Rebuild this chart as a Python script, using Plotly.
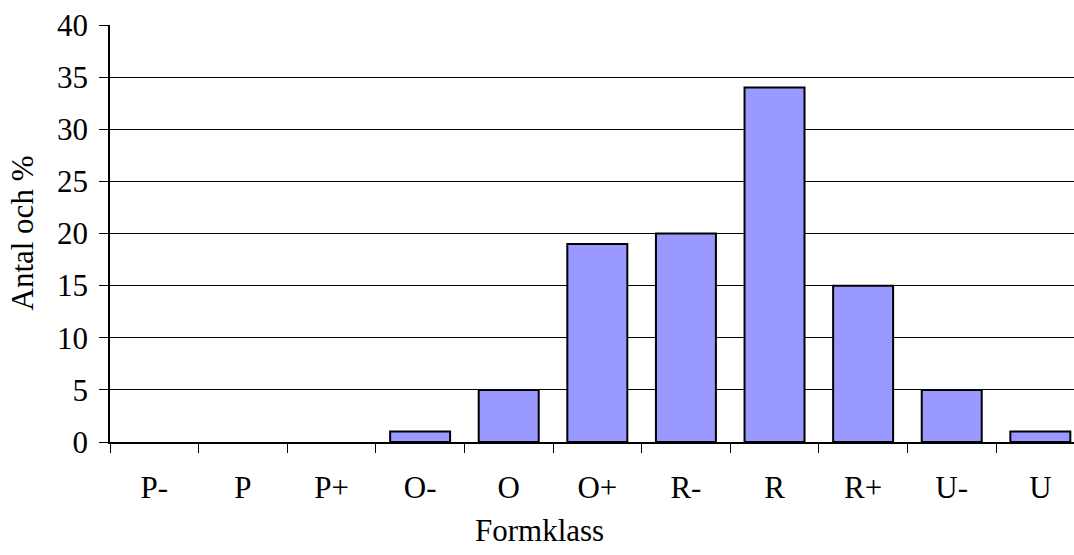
import plotly.graph_objects as go

categories = ["P-", "P", "P+", "O-", "O", "O+", "R-", "R", "R+", "U-", "U"]
values = [0, 0, 0, 1, 5, 19, 20, 34, 15, 5, 1]
y_ticks = [0, 5, 10, 15, 20, 25, 30, 35, 40]

FONT = "Liberation Serif, Times New Roman, serif"
FS = 31

fig = go.Figure()
fig.add_trace(go.Bar(
    x=categories, y=values,
    marker=dict(color="#9999FF",
                line=dict(color="black", width=[0 if v == 0 else 2 for v in values])),
))

fig.update_layout(
    width=1074, height=555,
    margin=dict(l=110, r=0, t=25, b=113),
    paper_bgcolor="white", plot_bgcolor="white",
    bargap=0.323,
    showlegend=False,
    font=dict(family=FONT, size=FS, color="black"),
    xaxis=dict(
        type="category", range=[-0.5, 10.38],
        tickson="boundaries", ticks="outside", ticklen=9, tickwidth=1.3, tickcolor="black",
        showline=True, linecolor="black", linewidth=1.5,
        showgrid=False, zeroline=False,
        tickfont=dict(family=FONT, size=FS),
        ticklabelstandoff=17,
    ),
    yaxis=dict(
        range=[0, 40], tickvals=y_ticks,
        ticks="outside", ticklen=9, tickwidth=1.3, tickcolor="black",
        showline=True, linecolor="black", linewidth=1.5,
        showgrid=True, gridcolor="black", gridwidth=1,
        zeroline=False,
        tickfont=dict(family=FONT, size=FS),
        ticklabelstandoff=5,
    ),
    annotations=[
        dict(text="Formklass", xref="paper", yref="paper",
             x=(539 - 110) / 964, y=-(530 - 442) / 417, xanchor="center", yanchor="middle",
             showarrow=False, font=dict(family=FONT, size=FS)),
        dict(text="Antal och %", xref="paper", yref="paper",
             x=-(110 - 22) / 964, y=0.5, xanchor="center", yanchor="middle",
             textangle=-90, showarrow=False, font=dict(family=FONT, size=FS)),
    ],
)

fig.write_html("out.html")
